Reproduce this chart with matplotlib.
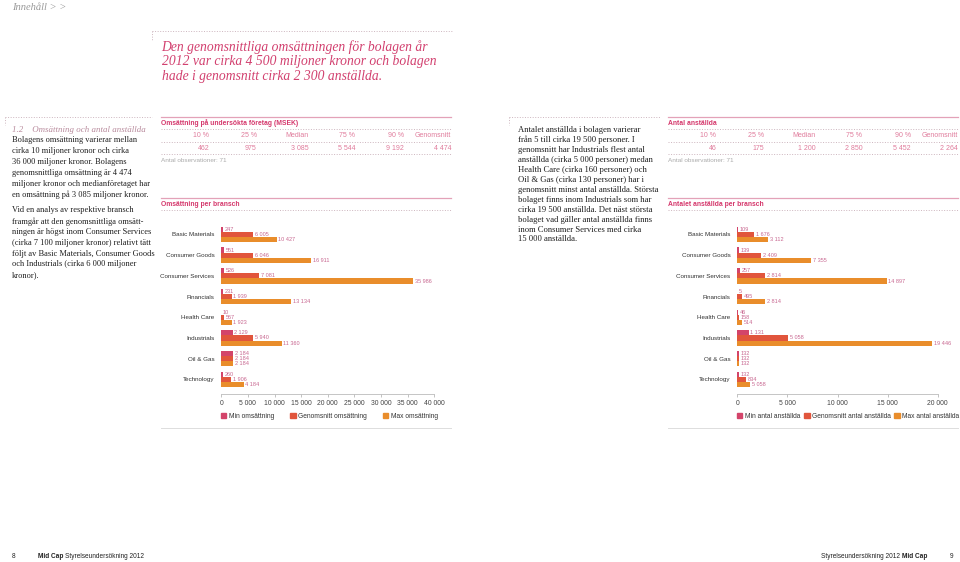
import matplotlib.pyplot as plt
from matplotlib import font_manager
from matplotlib.lines import Line2D
from matplotlib.patches import Patch

W, H = 960, 562

branscher = ['Basic Materials', 'Consumer Goods', 'Consumer Services', 'Financials',
             'Health Care', 'Industrials', 'Oil & Gas', 'Technology']

# omsättning per bransch (MSEK)
oms_min = [247, 551, 526, 231, 10, 2129, 2184, 260]
oms_avg = [6005, 6046, 7081, 1939, 567, 5940, 2184, 1906]
oms_max = [10427, 16911, 35986, 13134, 1923, 11360, 2184, 4184]

# antal anställda per bransch
anst_min = [109, 139, 257, 5, 46, 1131, 132, 132]
anst_avg = [1676, 2409, 2814, 495, 158, 5058, 132, 834]
anst_max = [3112, 7355, 14897, 2814, 514, 19446, 132, 1258]
anst_max_text = ['3 112', '7 355', '14 897', '2 814', '514', '19 446', '132', '5 058']

pct_heads = ['10 %', '25 %', 'Median', '75 %', '90 %', 'Genomsnitt']
oms_pct = [462, 975, 3085, 5544, 9192, 4474]
anst_pct = [46, 175, 1200, 2850, 5452, 2264]

C_MIN = '#d3446a'
C_AVG = '#e1553c'
C_MAX = '#e98d2b'
PINK = '#d5386c'
TPINK = '#e07c9c'
LPINK = '#c86790'
DOT = '#cdb5be'
SANS = 'Liberation Sans'
SERIF = 'Liberation Serif'

installed = {f.name for f in font_manager.fontManager.ttflist}
NARROW = 'Liberation Sans Narrow' if 'Liberation Sans Narrow' in installed else None


def fmt(v):
    return f'{v:,}'.replace(',', ' ')


def fx(x):
    return x / W


def fy(y):
    return 1 - y / H


fig = plt.figure(figsize=(W / 100, H / 100), dpi=100)


def line(x0, x1, y0, y1, color, lw=0.7, ls='-'):
    fig.add_artist(Line2D([fx(x0), fx(x1)], [fy(y0), fy(y1)], color=color, lw=lw, ls=ls))


def txt(x, y, s, **kw):
    kw.setdefault('va', 'center')
    return fig.text(fx(x), fy(y), s, **kw)


# --- header / title ---
txt(12, 7, 'Innehåll > >', family=SERIF, style='italic', fontsize=7.6, color='#9a9a9a')
line(152, 453, 31, 31, DOT, ls=':')
line(152, 152, 31, 40, DOT, ls=':')
title = ['Den genomsnittliga omsättningen för bolagen år',
         '2012 var cirka 4 500 miljoner kronor och bolagen',
         'hade i genomsnitt cirka 2 300 anställda.']
for i, s in enumerate(title):
    txt(161.5, 46.8 + i * 14.8, s, family=SERIF, style='italic', fontsize=9.8, color='#d2406f')

# --- left text column ---
line(5, 152, 117, 117, DOT, ls=':')
line(5, 5, 117, 125, DOT, ls=':')
txt(12, 130, '1.2    Omsättning och antal anställda', family=SERIF, style='italic',
    fontsize=6.4, color='#b88a9c')
para1 = ['Bolagens omsättning varierar mellan',
         'cirka 10 miljoner kronor och cirka',
         '36 000 miljoner kronor. Bolagens',
         'genomsnittliga omsättning är 4 474',
         'miljoner kronor och medianföretaget har',
         'en omsättning på 3 085 miljoner kronor.']
para2 = ['Vid en analys av respektive bransch',
         'framgår att den genomsnittliga omsätt-',
         'ningen är högst inom Consumer Services',
         '(cirka 7 100 miljoner kronor) relativt tätt',
         'följt av Basic Materials, Consumer Goods',
         'och Industrials (cirka 6 000 miljoner',
         'kronor).']
for i, s in enumerate(para1):
    txt(12, 140.5 + i * 10.8, s, family=SERIF, fontsize=6.0, color='#1e1e1e')
for i, s in enumerate(para2):
    txt(12, 210.5 + i * 10.8, s, family=SERIF, fontsize=6.0, color='#1e1e1e')

# --- right text column ---
line(509, 660, 117, 117, DOT, ls=':')
line(509, 509, 117, 125, DOT, ls=':')
para3 = ['Antalet anställda i bolagen varierar',
         'från 5 till cirka 19 500 personer. I',
         'genomsnitt har Industrials flest antal',
         'anställda (cirka 5 000 personer) medan',
         'Health Care (cirka 160 personer) och',
         'Oil & Gas (cirka 130 personer) har i',
         'genomsnitt minst antal anställda. Största',
         'bolaget finns inom Industrials som har',
         'cirka 19 500 anställda. Det näst största',
         'bolaget vad gäller antal anställda finns',
         'inom Consumer Services med cirka',
         '15 000 anställda.']
for i, s in enumerate(para3):
    txt(518, 130 + i * 9.95, s, family=SERIF, fontsize=6.25, color='#1e1e1e')


def panel(px0, px1, title1, pct, title2, ax_x0, ax_x1, xmax,
          vmin, vavg, vmax, max_text, leg_names, colspace):
    # summary table
    line(px0, px1, 117, 117, '#e3a2b8', lw=0.9)
    txt(px0, 123.5, title1, family=SANS, weight='bold', fontsize=4.9, color=PINK)
    line(px0, px1, 128.5, 128.5, DOT, ls=':')
    right_edges = [px0 + (px1 - px0) * f for f in (0.167, 0.33, 0.508, 0.67, 0.838, 1.0)]
    for r, h, v in zip(right_edges, pct_heads, pct):
        txt(r, 135.5, h, family=SANS, fontsize=5, color=TPINK, ha='right')
        txt(r, 148, fmt(v), family=SANS, fontsize=5, color=TPINK, ha='right')
    line(px0, px1, 141.5, 141.5, DOT, ls=':')
    line(px0, px1, 154, 154, DOT, ls=':')
    txt(px0, 161, 'Antal observationer: 71', family=SANS, fontsize=4.6, color='#ababab')
    line(px0, px1, 198, 198, '#e3a2b8', lw=0.9)
    txt(px0, 204.5, title2, family=SANS, weight='bold', fontsize=4.9, color=PINK)
    line(px0, px1, 210, 210, DOT, ls=':')
    line(px0, px1, 428, 428, '#dddddd', lw=0.7)

    # bars
    top, bot = 224, 394
    ax = fig.add_axes([fx(ax_x0), fy(bot), (ax_x1 - ax_x0) / W, (bot - top) / H])
    c0, step = 234.5, 20.7
    ax.set_ylim((bot - c0) / step, (top - c0) / step)
    ax.set_xlim(0, xmax)
    ys = list(range(len(branscher)))
    hgt = 0.25
    for off, vals, col, labs in ((-hgt, vmin, C_MIN, [fmt(v) for v in vmin]),
                                 (0, vavg, C_AVG, [fmt(v) for v in vavg]),
                                 (hgt, vmax, C_MAX, max_text)):
        yy = [y + off for y in ys]
        ax.barh(yy, vals, height=hgt, color=col, linewidth=0)
        for y, v, s in zip(yy, vals, labs):
            ax.annotate(s, (v, y), xytext=(1.2, 0), textcoords='offset points',
                        va='center', ha='left', fontsize=4, color=LPINK, family=SANS)
    ax.set_yticks(ys)
    ax.set_yticklabels(branscher, family=SANS, fontsize=4.5, color='#333333')
    ax.tick_params(axis='y', length=0, pad=5)
    ticks = list(range(0, xmax + 1, 5000))
    ax.set_xticks(ticks)
    ax.set_xticklabels([fmt(t) for t in ticks], family=SANS, fontsize=4.9, color='#444444')
    ax.tick_params(axis='x', length=1.8, width=0.5, color='#aaaaaa', pad=2.3)
    for s in ('top', 'right', 'left'):
        ax.spines[s].set_visible(False)
    ax.spines['bottom'].set_color('#bbbbbb')
    ax.spines['bottom'].set_linewidth(0.6)
    ax.patch.set_alpha(0)

    handles = [Patch(color=c, label=n) for c, n in zip((C_MIN, C_AVG, C_MAX), leg_names)]
    ax.legend(handles=handles, loc='center left', bbox_to_anchor=(fx(ax_x0 - 0.5), fy(416)),
              bbox_transform=fig.transFigure, ncol=3, frameon=False,
              prop={'family': SANS, 'size': 4.8}, handlelength=0.85, handleheight=0.85,
              handletextpad=0.35, columnspacing=colspace, borderpad=0, borderaxespad=0)
    leg = ax.get_legend()
    for t in leg.get_texts():
        t.set_color('#333333')


panel(161, 451, 'Omsättning på undersökta företag (MSEK)', oms_pct,
      'Omsättning per bransch', 221.3, 434.3, 40000,
      oms_min, oms_avg, oms_max, [fmt(v) for v in oms_max],
      ['Min omsättning', 'Genomsnitt omsättning', 'Max omsättning'], 2.4)

panel(668, 958, 'Antal anställda', anst_pct,
      'Antalet anställda per bransch', 737.3, 937.7, 20000,
      anst_min, anst_avg, anst_max, anst_max_text,
      ['Min antal anställda', 'Genomsnitt antal anställda', 'Max antal anställda'], 0.55)

# --- footer ---
if NARROW:
    ffam, FS = NARROW, 5.6
else:
    ffam, FS = SANS, 4.7
txt(12, 557, '8', family=ffam, fontsize=FS, color='#222222')
txt(950, 557, '9', family=ffam, fontsize=FS, color='#222222')
renderer = fig.canvas.get_renderer()
t1 = txt(38, 557, 'Mid Cap', family=ffam, weight='bold', fontsize=FS, color='#222222')
x_end = t1.get_window_extent(renderer).x1
txt(x_end + 2, 557, 'Styrelseundersökning 2012', family=ffam, fontsize=FS, color='#222222')
t2 = txt(927, 557, 'Mid Cap', family=ffam, weight='bold', fontsize=FS, color='#222222', ha='right')
x_start = t2.get_window_extent(renderer).x0
txt(x_start - 2, 557, 'Styrelseundersökning 2012', family=ffam, fontsize=FS,
    color='#222222', ha='right')

fig.savefig('out.png', dpi=100)
